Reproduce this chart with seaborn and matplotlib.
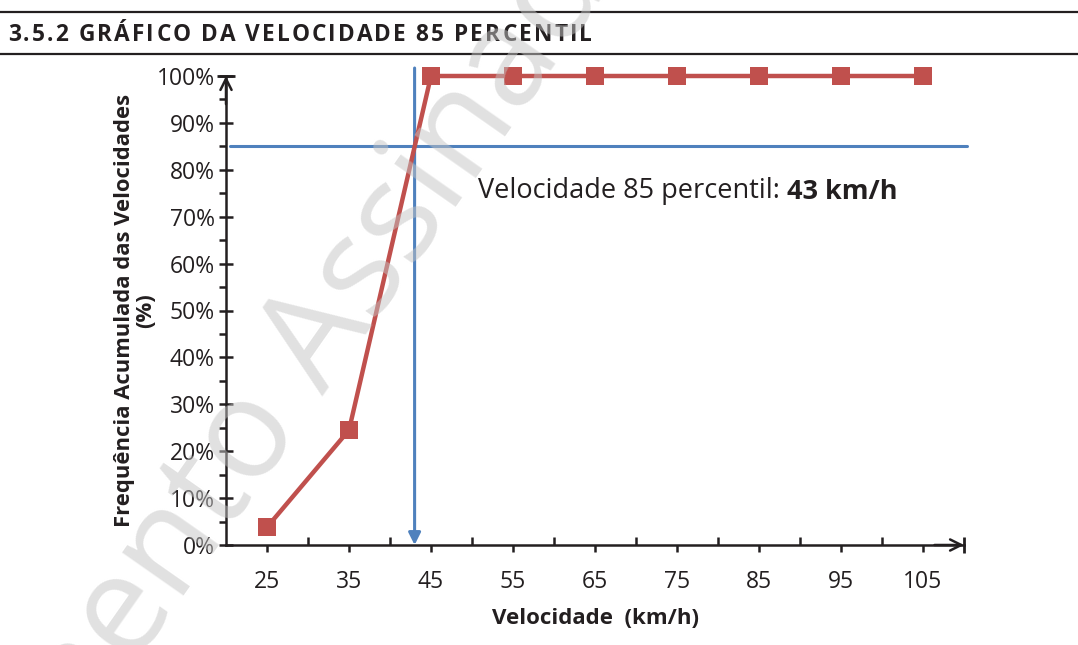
import numpy as np
import pandas as pd
import matplotlib
matplotlib.use("Agg")
import matplotlib.pyplot as plt
from matplotlib.ticker import FixedLocator, FuncFormatter
from matplotlib.font_manager import FontProperties
import seaborn as sns

# ---- data ----
speeds = [25, 35, 45, 55, 65, 75, 85, 95, 105]
cum_freq = [3.8, 24.5, 100, 100, 100, 100, 100, 100, 100]
p85_speed = 43
p85_level = 85
y_ticks = [0, 10, 20, 30, 40, 50, 60, 70, 80, 90, 100]
title = "3.5.2 GRÁFICO DA VELOCIDADE 85 PERCENTIL"
xlabel = "Velocidade  (km/h)"
ylabel = "Frequência Acumulada das Velocidades\n(%)"
note_regular = "Velocidade 85 percentil: "
note_bold = "43 km/h"
watermark = "Documento Assinado"

sns.set_theme(style="white")
plt.rcParams["font.family"] = ["Open Sans", "DejaVu Sans"]

RED = "#C0504D"
BLUE = "#4F81BD"
INK = "#231F20"

W, H = 1078, 645
fig = plt.figure(figsize=(W / 100, H / 100), dpi=100)
ax = fig.add_axes([226 / W, 1 - 545 / H, (964 - 226) / W, (545 - 76) / H])

df = pd.DataFrame({"speed": speeds, "freq": cum_freq})
sns.lineplot(data=df, x="speed", y="freq", ax=ax, color=RED, lw=3.2,
             marker="s", markersize=13, markeredgewidth=0, clip_on=False, zorder=5)

ax.set_xlim(20, 110)
ax.set_ylim(0, 100)

# percentile lines
ax.plot([20.5, 110.4], [p85_level, p85_level], color=BLUE, lw=2.2, clip_on=False, zorder=4)
ax.annotate("", xy=(p85_speed, 0), xytext=(p85_speed, 101.7),
            arrowprops=dict(arrowstyle="-|>", color=BLUE, lw=2.2, mutation_scale=18,
                            shrinkA=0, shrinkB=0), annotation_clip=False, zorder=4)

# note text
t1 = ax.text(50.7, 74.0, note_regular, fontsize=19.5, color=INK, va="baseline", ha="left")
ax.annotate(note_bold, xy=(1, 0), xycoords=t1, va="bottom", ha="left",
            fontsize=19.5, color=INK, fontweight="bold")

# spines
for s in ["top", "right"]:
    ax.spines[s].set_visible(False)
for s in ["left", "bottom"]:
    ax.spines[s].set_color(INK)
    ax.spines[s].set_linewidth(1.8)

# x ticks: labels at categories (out), in-ticks between
ax.xaxis.set_major_locator(FixedLocator(speeds))
ax.xaxis.set_minor_locator(FixedLocator([30, 40, 50, 60, 70, 80, 90, 100]))
ax.tick_params(axis="x", which="major", direction="out", length=5, width=1.8,
               color=INK, labelsize=16.5, labelcolor=INK, pad=13, bottom=True)
ax.tick_params(axis="x", which="minor", direction="in", length=6, width=1.8,
               color=INK, bottom=True)

# y ticks
ax.yaxis.set_major_locator(FixedLocator(y_ticks))
ax.yaxis.set_minor_locator(FixedLocator([5, 15, 25, 35, 45, 55, 65, 75, 85, 95]))
ax.yaxis.set_major_formatter(FuncFormatter(lambda v, p: f"{v:.0f}%"))
ax.tick_params(axis="y", which="major", direction="inout", length=10, width=1.8,
               color=INK, labelsize=16.5, labelcolor=INK, pad=3, left=True)
ax.tick_params(axis="y", which="minor", direction="out", length=5, width=1.8,
               color=INK, left=True)

# axis arrows
ax.annotate("", xy=(1, 0), xytext=(0.96, 0), xycoords="axes fraction",
            arrowprops=dict(arrowstyle="->", color=INK, lw=1.8, mutation_scale=20,
                            shrinkA=0, shrinkB=0), annotation_clip=False)
ax.annotate("", xy=(0, 1), xytext=(0, 0.94), xycoords="axes fraction",
            arrowprops=dict(arrowstyle="->", color=INK, lw=1.8, mutation_scale=20,
                            shrinkA=0, shrinkB=0), annotation_clip=False)
ax.plot([1], [0], transform=ax.transAxes, marker="|", ms=11, mew=2, color=INK, clip_on=False)
ax.plot([0], [1], transform=ax.transAxes, marker="_", ms=13, mew=2, color=INK, clip_on=False)

ax.set_xlabel(xlabel, fontsize=16, fontweight="bold", color=INK)
ax.xaxis.label.set_va("baseline")
ax.xaxis.set_label_coords(0.5, -0.1684)
ax.set_ylabel(ylabel, fontsize=15.8, fontweight="bold", color=INK, linespacing=1.0)
ax.yaxis.set_label_coords(-0.095, 0.5)

# title bar
fig.add_artist(plt.Line2D([0, 1], [1 - 12 / H, 1 - 12 / H], transform=fig.transFigure, color=INK, lw=1.6))
fig.add_artist(plt.Line2D([0, 1], [1 - 54 / H, 1 - 54 / H], transform=fig.transFigure, color=INK, lw=1.6))

# tracked (letter-spaced) title
renderer = fig.canvas.get_renderer()
fp = FontProperties(family=["Open Sans", "DejaVu Sans"], weight="bold", size=16.3)
x_start, x_end = 8.0, 592.0
widths = [renderer.get_text_width_height_descent(title[:i], fp, ismath=False)[0] if i else 0.0
          for i in range(len(title) + 1)]
natural = widths[-1]
track = (x_end - x_start - natural) / (len(title) - 1)
for i, ch in enumerate(title):
    fig.text((x_start + widths[i] + i * track) / W, 1 - 41 / H, ch, fontproperties=fp,
             color=INK, va="baseline", ha="left")

# watermark
fig.text(233 / W, 1 - 462 / H, watermark, fontsize=100, color="#c4c4c4", alpha=0.5,
         rotation=55, rotation_mode="anchor", ha="center", va="center", zorder=20)

fig.savefig("out.png", dpi=100)
